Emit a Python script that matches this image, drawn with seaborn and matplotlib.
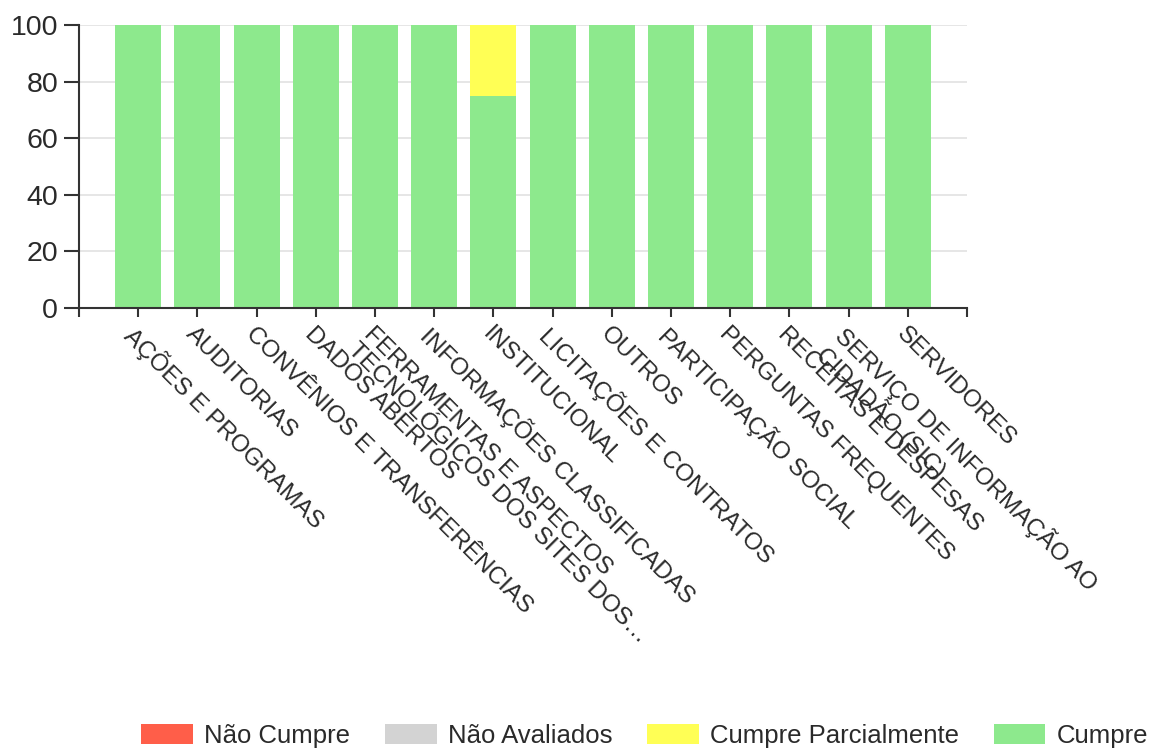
import matplotlib
matplotlib.use("Agg")
import matplotlib.pyplot as plt
from matplotlib.patches import Patch
import seaborn as sns
import numpy as np

categories = [
    "AÇÕES E PROGRAMAS",
    "AUDITORIAS",
    "CONVÊNIOS E TRANSFERÊNCIAS",
    "DADOS ABERTOS",
    "FERRAMENTAS E ASPECTOS\nTECNOLÓGICOS DOS SITES DOS…",
    "INFORMAÇÕES CLASSIFICADAS",
    "INSTITUCIONAL",
    "LICITAÇÕES E CONTRATOS",
    "OUTROS",
    "PARTICIPAÇÃO SOCIAL",
    "PERGUNTAS FREQUENTES",
    "RECEITAS E DESPESAS",
    "SERVIÇO DE INFORMAÇÃO AO\nCIDADÃO (SIC)",
    "SERVIDORES",
]
cumpre = [100, 100, 100, 100, 100, 100, 75, 100, 100, 100, 100, 100, 100, 100]
cumpre_parcial = [0, 0, 0, 0, 0, 0, 25, 0, 0, 0, 0, 0, 0, 0]
nao_avaliados = [0] * 14
nao_cumpre = [0] * 14

series_names = ["Não Cumpre", "Não Avaliados", "Cumpre Parcialmente", "Cumpre"]
series_colors = ["#ff5e49", "#d3d3d3", "#ffff55", "#8de98d"]
y_ticks = [0, 20, 40, 60, 80, 100]

sns.set_style("white")
plt.rcParams["font.family"] = ["Liberation Sans", "DejaVu Sans"]
text_color = "#2a2a2a"

fig = plt.figure(figsize=(11.52, 7.49), dpi=100)
ax = fig.add_axes([79 / 1152, 1 - 308 / 749, (967 - 79) / 1152, (308 - 25) / 749])

stack = [
    (cumpre, series_colors[3]),
    (cumpre_parcial, series_colors[2]),
    (nao_avaliados, series_colors[1]),
    (nao_cumpre, series_colors[0]),
]
bottom = np.zeros(len(categories))
for vals, col in stack:
    sns.barplot(x=list(range(len(categories))), y=vals, color=col, saturation=1,
                width=0.78, bottom=bottom, ax=ax, linewidth=0, native_scale=True)
    bottom = bottom + np.array(vals)

ax.set_xlim(-1, 14)
ax.set_ylim(0, 100)
ax.set_yticks(y_ticks)
ax.set_yticklabels([str(v) for v in y_ticks], fontsize=20.5, color=text_color)
ax.set_xticks(range(len(categories)))
ax.set_xticklabels(categories, rotation=-45, ha="left", va="top",
                   rotation_mode="anchor", fontsize=17.5, color=text_color,
                   linespacing=1.05)
ax.set_xticks([-1, 14], minor=True)
ax.tick_params(axis="x", which="both", direction="out", length=6.5, width=1.5,
               color="#333333", pad=4, bottom=True)
ax.tick_params(axis="y", direction="out", length=11, width=1.5, color="#333333",
               pad=4, left=True)
ax.set_xlabel("")
ax.set_ylabel("")

ax.yaxis.grid(True, color="#e2e2e2", linewidth=1.2)
ax.set_axisbelow(True)
for s in ["top", "right"]:
    ax.spines[s].set_visible(False)
for s in ["left", "bottom"]:
    ax.spines[s].set_color("#333333")
    ax.spines[s].set_linewidth(1.5)

handles = [Patch(facecolor=c, edgecolor="none", label=n)
           for n, c in zip(series_names, series_colors)]
fig.legend(handles=handles, loc="center right",
           bbox_to_anchor=(1148 / 1152, 1 - 736 / 749),
           ncol=4, frameon=False, fontsize=18.5, handlelength=2.02,
           handleheight=0.78, handletextpad=0.43, columnspacing=1.35,
           labelcolor=text_color, borderaxespad=0, borderpad=0)

fig.savefig("out.png", dpi=100)
